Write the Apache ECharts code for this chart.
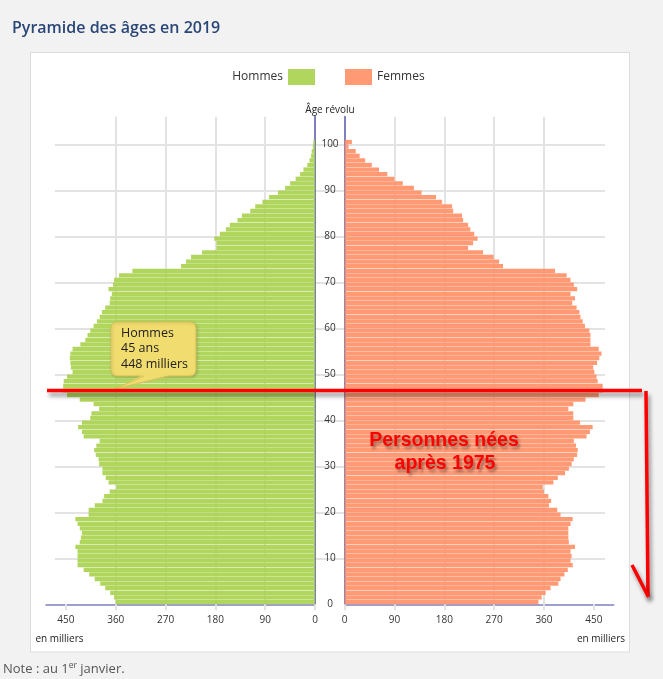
<!DOCTYPE html>
<html><head><meta charset="utf-8">
<script src="https://cdn.jsdelivr.net/npm/echarts@6/dist/echarts.min.js"></script>
<style>html,body{margin:0;padding:0;background:#f2f2f2;}#c{width:663px;height:679px;}</style>
</head><body><div id="c"></div>
<script>
// ---- data (milliers) ----
const ages = [0,1,2,3,4,5,6,7,8,9,10,11,12,13,14,15,16,17,18,19,20,21,22,23,24,25,26,27,28,29,30,31,32,33,34,35,36,37,38,39,40,41,42,43,44,45,46,47,48,49,50,51,52,53,54,55,56,57,58,59,60,61,62,63,64,65,66,67,68,69,70,71,72,73,74,75,76,77,78,79,80,81,82,83,84,85,86,87,88,89,90,91,92,93,94,95,96,97,98,99,100];
const hommes = [360,363,370,379,388,398,408,418,429,429,429,429,433,425,423,421,425,429,433,409,409,398,384,381,371,359,373,378,384,384,390,391,396,399,395,389,418,421,428,421,406,404,390,400,425,448,455,455,454,448,438,441,442,443,442,438,424,415,411,406,400,394,389,385,379,371,370,367,373,365,363,354,330,242,233,224,204,178,178,182,172,161,154,140,132,117,108,95,83,67,54,45,35,27,21,14,10,7,6,4,3];
const femmes = [350,356,363,372,386,390,397,403,412,408,410,408,416,405,404,404,404,408,412,390,384,369,373,368,360,358,377,385,398,405,410,414,420,421,418,414,437,443,448,425,413,413,404,413,435,459,467,466,457,455,451,449,456,460,464,459,444,444,444,442,434,430,426,424,419,411,416,408,420,414,408,401,380,286,279,269,250,223,232,240,234,227,223,214,212,196,194,176,165,139,125,105,90,77,62,49,37,27,20,7,13];
const valueTicks = [0,90,180,270,360,450];
const ageTicks = [0,10,20,30,40,50,60,70,80,90,100];
const seriesNames = ['Hommes','Femmes'];
const tooltipLines = ['Hommes','45 ans','448 milliers'];

// ---- layout / style ----
const AXIS = '#7f7fc0', GRID = '#e3e3e3';
const TOP = 116.7, H = 487.6, XMAX = 486;
const slots = ages.map(String).concat(['','','','','']);
const FONT = 'Open Sans';

const chart = echarts.init(document.getElementById('c'), null, {renderer:'canvas'});

function xAxisCfg(gi, inverse){
  return {gridIndex:gi, type:'value', inverse:inverse, min:0, max:XMAX, interval:90,
    axisLine:{show:true, onZero:false, lineStyle:{color:AXIS, width:1.5}},
    axisTick:{show:true, customValues:valueTicks, length:6, lineStyle:{color:GRID, width:2}},
    axisLabel:{customValues:valueTicks, margin:11, fontSize:10, color:'#333', fontFamily:FONT},
    splitLine:{show:true, showMinLine:false, showMaxLine:false, lineStyle:{color:GRID, width:2}}};
}
function yCatCfg(gi, pos){
  return {gridIndex:gi, type:'category', data:slots, position:pos,
    axisLine:{show:true, lineStyle:{color:AXIS, width:2}},
    axisTick:{show:false}, axisLabel:{show:false}, splitLine:{show:false}};
}

const redShadow = {shadowColor:'rgba(0,0,0,0.45)', shadowBlur:4, shadowOffsetX:2, shadowOffsetY:4};
const redText = {fill:'#ff0000', font:'bold 19.5px "Liberation Sans", Arial', align:'center', verticalAlign:'middle',
  textShadowColor:'rgba(0,0,0,0.4)', textShadowBlur:3, textShadowOffsetX:2, textShadowOffsetY:3};

chart.setOption({
  animation:false,
  backgroundColor:'#f2f2f2',
  textStyle:{fontFamily:FONT},
  grid:[
    {left:46, top:TOP, width:269, height:H},
    {left:344.7, top:TOP, width:269, height:H},
    {left:55, top:TOP, width:550, height:H}
  ],
  xAxis:[ xAxisCfg(0,true), xAxisCfg(1,false),
    {gridIndex:2, type:'value', show:false, min:0, max:1} ],
  yAxis:[ yCatCfg(0,'right'), yCatCfg(1,'left'),
    {gridIndex:2, type:'value', min:0, max:106, interval:10, position:'left', offset:-275,
     axisLine:{show:false}, axisTick:{show:false},
     axisLabel:{customValues:ageTicks, align:'center', margin:0, fontSize:10, color:'#333', fontFamily:FONT},
     splitLine:{show:true, showMinLine:false, showMaxLine:false, lineStyle:{color:GRID, width:2}}} ],
  legend:[
    {data:[seriesNames[0]], right:348, top:69, padding:0, align:'right', itemWidth:27, itemHeight:16, icon:'rect',
     textStyle:{fontSize:12, color:'#333', fontFamily:FONT}},
    {data:[seriesNames[1]], left:345, top:69, padding:0, align:'left', itemWidth:27, itemHeight:16, icon:'rect',
     textStyle:{fontSize:12, color:'#333', fontFamily:FONT}}
  ],
  series:[
    {type:'bar', name:seriesNames[0], xAxisIndex:0, yAxisIndex:0, data:hommes, barCategoryGap:'6%',
     itemStyle:{color:'#a8d24c', opacity:0.9}, silent:true},
    {type:'bar', name:seriesNames[1], xAxisIndex:1, yAxisIndex:1, data:femmes, barCategoryGap:'6%',
     itemStyle:{color:'#ff8f66', opacity:0.9}, silent:true}
  ],
  graphic:[
    {type:'rect', z:-100, shape:{x:30.5, y:52.5, width:599, height:599.5},
     style:{fill:'#ffffff', stroke:'#dcdcdc', lineWidth:1}, silent:true},
    {type:'text', x:12, y:28, z:10, style:{text:'Pyramide des âges en 2019', fill:'#2a4676',
      font:'600 16px "Open Sans"', verticalAlign:'middle'}},
    {type:'text', x:330, y:110, z:10, style:{text:'Âge révolu', fill:'#222', font:'10px "Open Sans"',
      align:'center', verticalAlign:'middle'}},
    {type:'text', x:59.5, y:639, z:10, style:{text:'en milliers', fill:'#222', font:'10px "Open Sans"',
      align:'center', verticalAlign:'middle'}},
    {type:'text', x:601, y:639, z:10, style:{text:'en milliers', fill:'#222', font:'10px "Open Sans"',
      align:'center', verticalAlign:'middle'}},
    {type:'text', x:3, y:669, z:10, style:{text:'Note : au 1{sup|er} janvier.', fill:'#555',
      font:'13px "Open Sans"', verticalAlign:'middle',
      rich:{sup:{fontSize:8.5, fill:'#555', fontFamily:FONT, verticalAlign:'top', lineHeight:16}}}},
    // tooltip callout
    {type:'rect', z:20, shape:{x:111, y:322, width:85, height:54, r:6},
     style:{fill:'#f1dc6f', stroke:'#d8c05c', lineWidth:1, shadowColor:'rgba(0,0,0,0.18)', shadowBlur:3, shadowOffsetX:1, shadowOffsetY:1}},
    {type:'polygon', z:21, shape:{points:[[143,375],[170,375],[115,389]]}, style:{fill:'#f1dc6f'}},
    {type:'polyline', z:22, shape:{points:[[144,376],[115,389],[169,376]]}, style:{stroke:'#d8c05c', lineWidth:1, fill:null}},
    {type:'text', x:121, y:325.5, z:23, style:{text:tooltipLines.join('\n'), fill:'#222', font:'12.5px "Open Sans"',
      lineHeight:15.5, verticalAlign:'top'}},
    // red annotations
    {type:'line', z:30, shape:{x1:47, y1:390.5, x2:642, y2:390.5}, style:Object.assign({stroke:'#ff0000', lineWidth:3.5}, redShadow)},
    {type:'line', z:30, shape:{x1:646, y1:391, x2:648, y2:596}, style:Object.assign({stroke:'#ff0000', lineWidth:3.5}, redShadow)},
    {type:'line', z:30, shape:{x1:632, y1:565, x2:648.5, y2:597}, style:Object.assign({stroke:'#ff0000', lineWidth:3.5}, redShadow)},
    {type:'text', x:444, y:441, z:30, style:Object.assign({text:'Personnes nées'}, redText)},
    {type:'text', x:445, y:464, z:30, style:Object.assign({text:'après 1975'}, redText)}
  ]
});
</script></body></html>
